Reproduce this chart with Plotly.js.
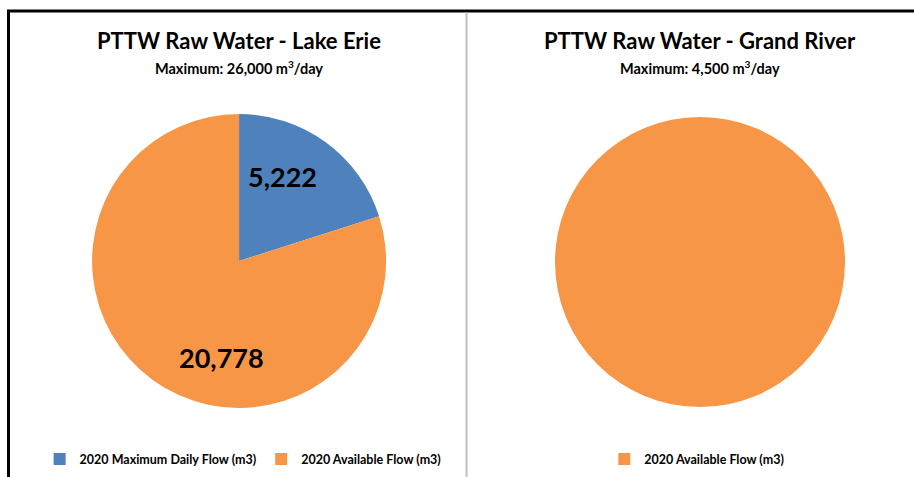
<!DOCTYPE html>
<html>
<head>
<meta charset="utf-8">
<script src="https://cdn.plot.ly/plotly-3.0.1.min.js"></script>
<style>html,body{margin:0;padding:0;background:#fff;}#chart{width:914px;height:477px;}</style>
</head>
<body>
<div id="chart"></div>
<script>
const categories = ["2020 Maximum Daily Flow (m3)", "2020 Available Flow (m3)"];
const lakeErieValues = [5222, 20778];
// trailing space keeps this label distinct from the Lake Erie one so it gets its own legend entry
const grandRiverLabels = ["2020 Available Flow (m3) "];
const grandRiverValues = [4500];
const titles = ["PTTW Raw Water - Lake Erie", "PTTW Raw Water - Grand River"];
const subtitles = ["Maximum: 26,000 m<sup>3</sup>/day", "Maximum: 4,500 m<sup>3</sup>/day"];
const colors = ["#4F81BD", "#F79646"];
const FONT = "Lato, 'Open Sans', sans-serif";

// label anchor positions (layout, paper coords) for the Lake Erie slices
const labelPos = [[282/914, 1 - 176/477], [221/914, 1 - 357/477]];

const traces = [
  {
    type: "pie",
    labels: categories,
    values: lakeErieValues,
    sort: false,
    direction: "clockwise",
    rotation: 0,
    marker: {colors: colors, line: {width: 0}},
    textinfo: "none",
    domain: {x: [0.1007, 0.4224], y: [0.1447, 0.7610]},
    legend: "legend",
    hoverinfo: "label+value"
  },
  {
    type: "pie",
    labels: grandRiverLabels,
    values: grandRiverValues,
    sort: false,
    direction: "clockwise",
    marker: {colors: [colors[1]], line: {width: 0}},
    textinfo: "none",
    domain: {x: [0.6072, 0.9245], y: [0.1467, 0.7547]},
    legend: "legend2",
    hoverinfo: "label+value"
  }
];

const legendFont = {family: FONT, size: 12.5, color: "#000", weight: "bold"};
const annotations = [
  {text: titles[0], x: 0.2615, y: 1 - 40/477},
  {text: subtitles[0], x: 0.2615, y: 1 - 67/477, small: true},
  {text: titles[1], x: 0.7659, y: 1 - 40/477},
  {text: subtitles[1], x: 0.7659, y: 1 - 67/477, small: true}
].map(a => ({
  text: a.text, x: a.x, y: a.y, xref: "paper", yref: "paper", showarrow: false,
  xanchor: "center", yanchor: "middle",
  font: {family: FONT, size: a.small ? 14.5 : 22, weight: "bold", color: "#000"}
}));
lakeErieValues.forEach((v, i) => {
  annotations.push({
    text: v.toLocaleString("en-US"), x: labelPos[i][0], y: labelPos[i][1],
    xref: "paper", yref: "paper", showarrow: false, xanchor: "center", yanchor: "middle",
    font: {family: FONT, size: 27, weight: "bold", color: "#000"}
  });
});

const layout = {
  width: 914, height: 477,
  margin: {l: 0, r: 0, t: 0, b: 0},
  paper_bgcolor: "#fff",
  font: {family: FONT, color: "#000"},
  showlegend: true,
  legend: {
    orientation: "h", x: 0.266, xanchor: "center", y: 0.037, yanchor: "middle",
    font: legendFont, itemwidth: 30, traceorder: "normal"
  },
  legend2: {
    orientation: "h", x: 0.764, xanchor: "center", y: 0.037, yanchor: "middle",
    font: legendFont, itemwidth: 30
  },
  annotations: annotations,
  shapes: [
    {type: "line", xref: "paper", yref: "paper", x0: 7/914, x1: 1, y0: 1 - 11/477, y1: 1 - 11/477,
     line: {color: "#000", width: 3}},
    {type: "line", xref: "paper", yref: "paper", x0: 8.5/914, x1: 8.5/914, y0: 0, y1: 1 - 10/477,
     line: {color: "#000", width: 3}},
    {type: "line", xref: "paper", yref: "paper", x0: 466.5/914, x1: 466.5/914, y0: 0, y1: 1 - 12.5/477,
     line: {color: "#BFBFBF", width: 2}}
  ]
};

Plotly.newPlot("chart", traces, layout, {displayModeBar: false, staticPlot: true});
</script>
</body>
</html>
